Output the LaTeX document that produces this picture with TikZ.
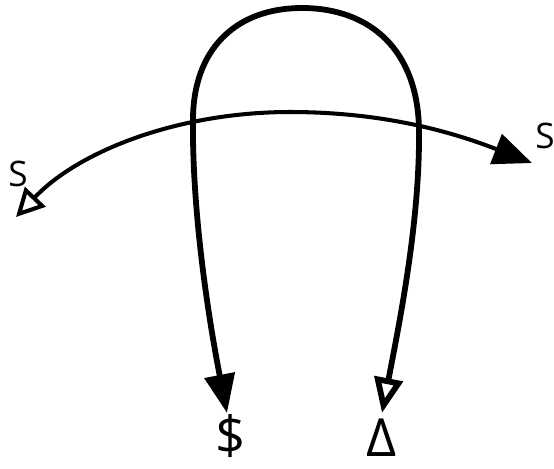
\documentclass[tikz,border=0pt]{standalone}
\usepackage{fontspec}
\setmainfont{Open Sans}
\usetikzlibrary{arrows.meta}

\begin{document}
\begin{tikzpicture}[
  x=0.02cm, y=-0.02cm,
  thinline/.style={line width=2.3pt},
  thickline/.style={line width=3.3pt},
  lbl/.style={inner sep=0pt, font=\fontsize{20}{22}\selectfont},
  biglbl/.style={inner sep=0pt, font=\fontsize{30}{32}\selectfont},
]
  \useasboundingbox (0,0) rectangle (554,468);

  % Labels
  \node[lbl] (sleft) at (18,174) {S};
  \node[lbl, anchor=west] (sright) at (535,136) {S};
  \node[biglbl] (dollar) at (231,436) {\$};
  \node[biglbl] (delta) at (382,438) {Δ};

  % Curve end points
  \coordinate (hstart) at (16,217);
  \coordinate (hend) at (532,163);
  \coordinate (lstart) at (227,413);
  \coordinate (lend) at (382,413);

  % Flat arc
  \draw[thinline, {Triangle[open,length=16pt,width=16pt]}-{Triangle[length=22pt,width=18pt]}]
    (hstart) .. controls (80,150) and (180,112) .. (290,112)
    .. controls (390,112) and (460,135) .. (hend);

  % Loop
  \draw[thickline, {Triangle[length=22pt,width=17pt]}-{Triangle[open,length=20pt,width=16pt]}]
    (lstart) .. controls (205,300) and (192,200) .. (193,120)
    .. controls (193,50) and (235,8) .. (302,8)
    .. controls (370,8) and (418,50) .. (419,130)
    .. controls (420,220) and (400,320) .. (lend);
\end{tikzpicture}
\end{document}
